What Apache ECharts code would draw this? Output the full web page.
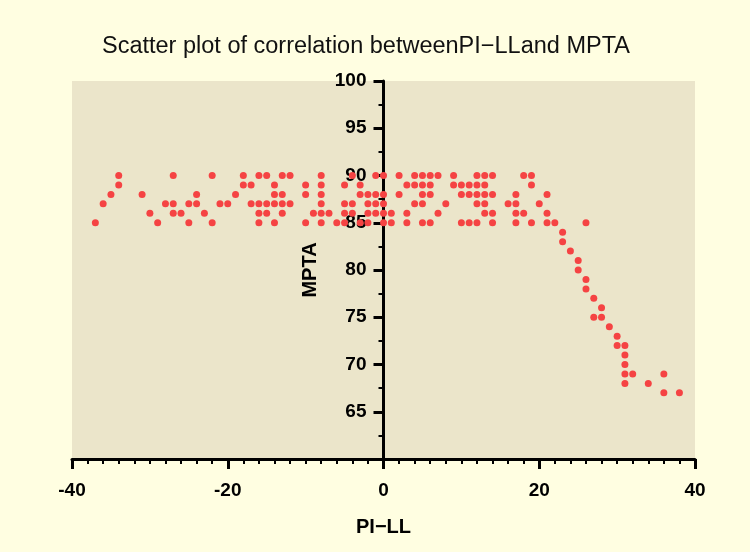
<!DOCTYPE html>
<html>
<head>
<meta charset="utf-8">
<title>PI-LL vs MPTA</title>
<script src="https://cdn.jsdelivr.net/npm/echarts@6/dist/echarts.min.js"></script>
<style>
  html, body { margin: 0; padding: 0; background: #FFFEE1; }
  #main { width: 750px; height: 552px; }
</style>
</head>
<body>
<div id="main"></div>
<script>
// MPTA rows (y value) and the PI-LL values read for each row
var rowY = [90, 89, 88, 87, 86, 85];
var row90 = [-34, -27, -22, -18, -16, -15, -13, -12, -8, -4, -1, 0, 2, 4, 5, 6, 7, 9, 12, 13, 14, 18, 19];
var row89 = [-34, -18, -17, -14, -10, -8, -5, -3, 3, 4, 5, 6, 9, 10, 11, 12, 13, 19];
var row88 = [-35, -31, -24, -19, -14, -13, -10, -8, -3, -2, -1, 0, 2, 5, 6, 10, 11, 12, 13, 14, 17, 21];
var row87 = [-36, -28, -27, -25, -24, -21, -20, -17, -16, -15, -14, -13, -12, -8, -5, -4, -2, -1, 0, 4, 5, 8, 12, 13, 16, 17, 20];
var row86 = [-30, -27, -26, -23, -16, -15, -13, -9, -8, -7, -5, -4, -2, -1, 0, 1, 3, 7, 13, 14, 17, 18, 21];
var row85 = [-37, -29, -25, -22, -16, -14, -10, -8, -6, -5, -3, -2, 0, 1, 3, 5, 6, 10, 11, 12, 14, 17, 19, 21, 22, 26];
// the falling tail on the right
var tailX = [23, 23, 24, 25, 25, 26, 26, 27, 28, 27, 28, 29, 30, 30, 31, 31, 31, 31, 32, 36, 31, 34, 36, 38];
var tailY = [84, 83, 82, 81, 80, 79, 78, 77, 76, 75, 75, 74, 73, 72, 72, 71, 70, 69, 69, 69, 68, 68, 67, 67];

var xTicks = [-40, -20, 0, 20, 40];
var yTicks = [65, 70, 75, 80, 85, 90, 95, 100];

var points = [];
[row90, row89, row88, row87, row86, row85].forEach(function (row, i) {
  row.forEach(function (x) { points.push([x, rowY[i]]); });
});
tailX.forEach(function (x, i) { points.push([x, tailY[i]]); });

var gridLeft = 72, gridRight = 55;
var plotW = 750 - gridLeft - gridRight;
// y axis sits on x = 0, i.e. the middle of the [-40, 40] range
var yOffset = -plotW * (0 - (-40)) / 80;

var chart = echarts.init(document.getElementById('main'));
var option = {
  backgroundColor: '#FFFEE1',
  animation: false,
  title: {
    text: 'Scatter plot of correlation betweenPI\u2212LLand MPTA',
    left: 97,
    top: 30,
    textStyle: {
      fontFamily: 'Liberation Sans',
      fontSize: 23.5,
      fontWeight: 'normal',
      color: '#111'
    }
  },
  grid: {
    left: gridLeft,
    right: gridRight,
    top: 81,
    bottom: 93,
    show: true,
    backgroundColor: '#EBE5CA',
    borderWidth: 0,
    outerBoundsMode: 'none'
  },
  xAxis: {
    type: 'value',
    min: -40,
    max: 40,
    interval: 20,
    name: 'PI\u2212LL',
    nameLocation: 'middle',
    nameGap: 58,
    nameTextStyle: { fontFamily: 'Liberation Sans', fontSize: 20, fontWeight: 'bold', color: '#000' },
    splitLine: { show: false },
    axisLine: { onZero: false, lineStyle: { color: '#000', width: 3 } },
    axisTick: { length: 10, lineStyle: { color: '#000', width: 3 } },
    minorTick: { show: true, splitNumber: 10, length: 5, lineStyle: { color: '#000', width: 2 } },
    axisLabel: {
      margin: 22,
      fontFamily: 'Liberation Sans',
      fontSize: 19,
      fontWeight: 'bold',
      color: '#000',
      formatter: function (v) { return xTicks.indexOf(v) >= 0 ? String(v) : ''; }
    }
  },
  yAxis: {
    type: 'value',
    position: 'left',
    offset: yOffset,
    min: 60,
    max: 100,
    interval: 5,
    name: 'MPTA',
    nameLocation: 'middle',
    nameGap: 63,
    nameTextStyle: { fontFamily: 'Liberation Sans', fontSize: 20, fontWeight: 'bold', color: '#000' },
    splitLine: { show: false },
    axisLine: { onZero: false, lineStyle: { color: '#000', width: 3 } },
    axisTick: { length: 10, lineStyle: { color: '#000', width: 3 } },
    minorTick: { show: true, splitNumber: 2, length: 5, lineStyle: { color: '#000', width: 2 } },
    axisLabel: {
      margin: 17,
      fontFamily: 'Liberation Sans',
      fontSize: 19,
      fontWeight: 'bold',
      color: '#000',
      formatter: function (v) { return yTicks.indexOf(v) >= 0 ? String(v) : ''; }
    }
  },
  series: [
    {
      type: 'scatter',
      data: points,
      symbolSize: 7,
      itemStyle: { color: '#F54343', opacity: 1 }
    }
  ]
};
chart.setOption(option);
</script>
</body>
</html>
